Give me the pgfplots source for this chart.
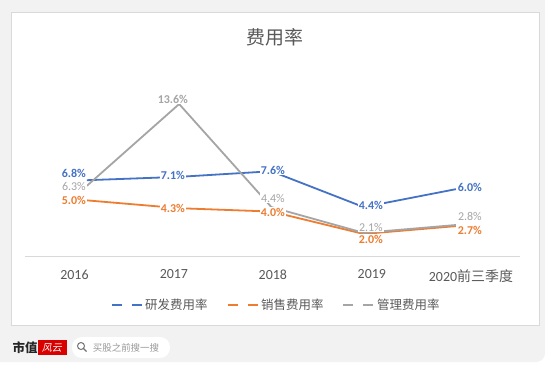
\documentclass[border=0pt]{standalone}
\usepackage{pgfplots}
\pgfplotsset{compat=1.18}
\usepackage{fontspec}
\setmainfont{Carlito}
\newfontfamily\cjk{Noto Sans CJK SC}
\definecolor{cblue}{HTML}{4472C4}
\definecolor{corange}{HTML}{ED7D31}
\definecolor{cgray}{HTML}{A5A5A5}
\definecolor{txt}{HTML}{595959}
\definecolor{bg}{HTML}{F2F2F2}
\definecolor{frame}{HTML}{D9D9D9}
\tikzset{
  lbl/.style={font=\bfseries\fontsize{12}{14}\selectfont, fill=white, inner sep=0.8bp},
  lblr/.style={font=\fontsize{12}{14}\selectfont, fill=white, inner sep=0.8bp},
  legtxt/.style={anchor=west, inner sep=0pt, text=txt, font=\cjk\fontsize{12.5}{14}\selectfont},
}
\begin{document}
\begin{tikzpicture}[x=1bp,y=1bp]
\useasboundingbox (0,0) rectangle (550,365);
\fill[white] (0,0) rectangle (550,365);
\fill[bg, rounded corners=9bp] (-12,3) rectangle (545,377);
\filldraw[fill=white, draw=frame, line width=0.8bp] (11,40) rectangle (539,353);
\node[text=txt, font=\cjk\fontsize{19}{22}\selectfont] at (275,328) {费用率};
% bottom brand strip
\node[font=\cjk\bfseries\fontsize{12.5}{14}\selectfont, text=black!85] at (25,17) {市值};
\fill[red!85!black] (38,10) rectangle (67,25);
\node[font=\cjk\fontsize{10}{11}\selectfont, text=white, xslant=0.2] at (52.5,17.5) {风云};
\fill[white, rounded corners=10bp] (72,7) rectangle (170,28);
\draw[black!55, line width=1bp] (81,19) circle (3.5);
\draw[black!55, line width=1.2bp] (83.5,16.5) -- (86.5,13.5);
\node[font=\cjk\fontsize{9.5}{11}\selectfont, text=black!40] at (126,17.5) {买股之前搜一搜};
\begin{axis}[
  at={(27,97)}, anchor=south west,
  scale only axis, width=495bp, height=179.2bp,
  xmin=-0.672, xmax=4.694, ymin=0, ymax=16,
  hide y axis, axis x line*=bottom,
  x axis line style={draw=frame, line width=0.8bp},
  xtick={-0.135,0.943,2.016,3.089,4.163},
  xticklabels={2016,2017,2018,2019,{2020{\cjk 前三季度}}},
  major tick length=0,
  xticklabel style={font=\fontsize{14}{16}\selectfont, text=txt, yshift=-10bp},
  clip=false,
]
\addplot[color=cblue, line width=1.8bp] coordinates {(0,6.8) (1,7.1) (2,7.6) (3,4.4) (4,6.0)};
\addplot[color=corange, line width=1.8bp] coordinates {(0,5.0) (1,4.3) (2,4.0) (3,2.0) (4,2.7)};
\addplot[color=cgray, line width=1.8bp] coordinates {(0,6.3) (1,13.6) (2,4.4) (3,2.1) (4,2.8)};
% data labels
\node[lbl, text=cblue] at (axis cs:-0.141,7.41) {6.8\%};
\node[lblr, text=cgray] at (axis cs:-0.141,6.25) {6.3\%};
\node[lbl, text=corange] at (axis cs:-0.141,5.0) {5.0\%};
\node[lbl, text=cblue] at (axis cs:0.932,7.23) {7.1\%};
\node[lbl, text=corange] at (axis cs:0.932,4.29) {4.3\%};
\node[lbl, text=cgray] at (axis cs:0.932,14.02) {13.6\%};
\node[lbl, text=cblue] at (axis cs:2.016,7.68) {7.6\%};
\node[lblr, text=cgray] at (axis cs:2.016,5.18) {4.4\%};
\node[lbl, text=corange] at (axis cs:2.016,3.93) {4.0\%};
\node[lbl, text=cblue] at (axis cs:3.079,4.55) {4.4\%};
\node[lblr, text=cgray] at (axis cs:3.079,2.59) {2.1\%};
\node[lbl, text=corange] at (axis cs:3.079,1.52) {2.0\%};
\node[lbl, text=cblue] at (axis cs:4.152,6.16) {6.0\%};
\node[lblr, text=cgray] at (axis cs:4.152,3.57) {2.8\%};
\node[lbl, text=corange] at (axis cs:4.152,2.32) {2.7\%};
\end{axis}
% legend
\fill[cblue] (112,59) rectangle (122,61); \fill[cblue] (132,59) rectangle (142,61);
\node[legtxt] at (145,60) {研发费用率};
\fill[corange] (228,59) rectangle (238,61); \fill[corange] (248,59) rectangle (258,61);
\node[legtxt] at (261,60) {销售费用率};
\fill[cgray] (343,59) rectangle (353,61); \fill[cgray] (363,59) rectangle (373,61);
\node[legtxt] at (377,60) {管理费用率};
\end{tikzpicture}
\end{document}
